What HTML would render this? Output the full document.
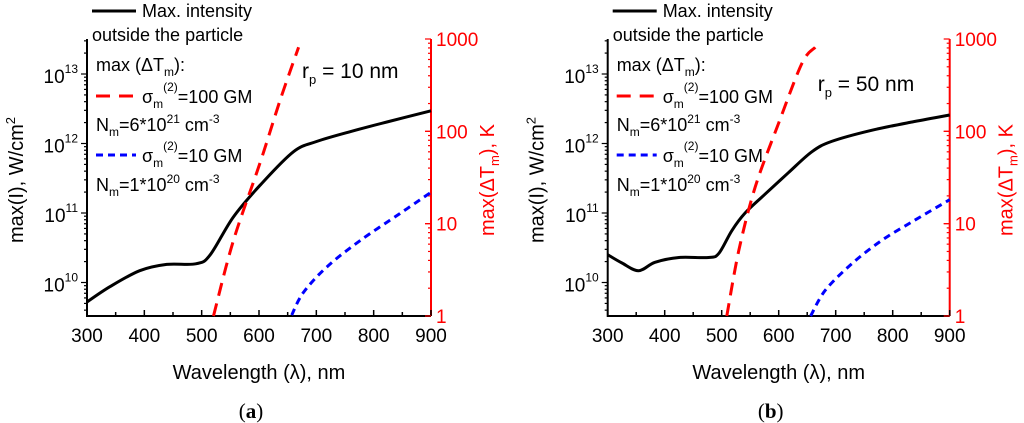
<!DOCTYPE html>
<html><head><meta charset="utf-8">
<style>
html,body{margin:0;padding:0;background:#fff;}
svg{display:block;font-family:"Liberation Sans",Arial,sans-serif;}
</style></head>
<body>
<svg id="fig" width="1024" height="423" viewBox="0 0 1024 423" xmlns="http://www.w3.org/2000/svg"></svg>
<script>
// ---- data ----
const xTicks = [300, 400, 500, 600, 700, 800, 900];
const leftTickExps = [10, 11, 12, 13];
const rightTicks = [1, 10, 100, 1000];
// panel (a) r_p = 10 nm
const aBlackWl = [300, 340, 392, 439, 491, 515, 555, 602, 660, 701, 759, 823, 900];
const aBlackLog = [9.72, 9.94, 10.17, 10.26, 10.27, 10.40, 10.94, 11.40, 11.88, 12.03, 12.17, 12.31, 12.47];
const aRedWl = [520.6, 555.5, 602, 637, 669];
const aRedLog = [0, 0.82, 1.66, 2.34, 2.91];
const aBlueWl = [657, 677, 718, 777, 846, 900];
const aBlueLog = [0.01, 0.25, 0.53, 0.82, 1.11, 1.34];
// panel (b) r_p = 50 nm
const bBlackWl = [300, 325, 354, 383, 425, 477, 495, 518, 541, 576, 617, 658, 693, 763, 834, 900];
const bBlackLog = [10.40, 10.28, 10.17, 10.29, 10.36, 10.36, 10.42, 10.75, 11.0, 11.27, 11.58, 11.88, 12.03, 12.19, 12.31, 12.41];
const bRedWl = [509, 530, 559, 600, 641, 664];
const bRedLog = [0, 0.71, 1.40, 2.09, 2.74, 2.91];
const bBlueWl = [656, 682, 729, 781, 834, 900];
const bBlueLog = [0, 0.28, 0.57, 0.82, 1.02, 1.26];

const NS = "http://www.w3.org/2000/svg";
const svg = document.getElementById('fig');
function el(tag, attrs, parent, text){
  const e = document.createElementNS(NS, tag);
  for (const k in attrs) e.setAttribute(k, attrs[k]);
  if (text !== undefined) e.textContent = text;
  (parent||svg).appendChild(e);
  return e;
}
function smoothPath(pts){
  let d = `M${pts[0][0].toFixed(1)},${pts[0][1].toFixed(1)}`;
  for (let i = 0; i < pts.length - 1; i++) {
    const p0 = pts[Math.max(0, i - 1)], p1 = pts[i], p2 = pts[i + 1], p3 = pts[Math.min(pts.length - 1, i + 2)];
    const c1x = p1[0] + (p2[0] - p0[0]) / 6, c1y = p1[1] + (p2[1] - p0[1]) / 6;
    const c2x = p2[0] - (p3[0] - p1[0]) / 6, c2y = p2[1] - (p3[1] - p1[1]) / 6;
    d += ` C${c1x.toFixed(1)},${c1y.toFixed(1)} ${c2x.toFixed(1)},${c2y.toFixed(1)} ${p2[0].toFixed(1)},${p2[1].toFixed(1)}`;
  }
  return d;
}

function panel(id, x0, x1, rp, label, black, red, blue){
  const top = 39, bot = 316;
  const g = el('g', {});
  
  
  const X = w => x0 + (w - 300) / 600 * (x1 - x0);
  const YL = l => 74 + (13 - l) * 69.5;
  const YR = l => bot - l * (bot - top) / 3;

  const ax = el('path', {d:`M${x0},${top}V${bot}H${x1}`, stroke:'#000', 'stroke-width':2, fill:'none'}, g);
  
  
  const rax = el('line', {x1:x1, y1:top, x2:x1, y2:bot, stroke:'#f00', 'stroke-width':2}, g);
  
  

  for (let w = 300; w <= 900; w += 50) {
    const major = w % 100 === 0;
    el('line', {x1:X(w), x2:X(w), y1:bot, y2:bot - (major ? 6 : 4), stroke:'#000', 'stroke-width':1.5}, g);
  }
  xTicks.forEach(w => {
    const t = el('text', {x:X(w), y:342, 'font-size':19, 'text-anchor':'middle'}, g, String(w));
    
    
  });
  for (let e = 9; e <= 13; e++) {
    for (let m = 1; m <= 9; m++) {
      const y = YL(e + Math.log10(m));
      if (y < top || y > bot) continue;
      el('line', {x1:x0, x2:x0 - (m === 1 ? 6 : 3), y1:y, y2:y, stroke:'#000', 'stroke-width':1.2}, g);
    }
  }
  leftTickExps.forEach(e => {
    const t = el('text', {x:x0 - 9, y:YL(e) + 9, 'font-size':19, 'text-anchor':'end'}, g, '10');
    
    
    el('tspan', {dy:-10, 'font-size':12}, t, String(e));
  });
  for (let e = 0; e < 3; e++) {
    for (let m = 1; m <= 10; m++) {
      const y = YR(e + Math.log10(m));
      el('line', {x1:x1, x2:x1 - (m === 1 || m === 10 ? 6 : 3), y1:y, y2:y, stroke:'#f00', 'stroke-width':1.2}, g);
    }
  }
  rightTicks.forEach(v => {
    const t = el('text', {x:x1 + 5, y:YR(Math.log10(v)) + 7, 'font-size':19, fill:'#f00'}, g, String(v));
    
    
  });

  const xt = el('text', {x:(x0 + x1) / 2, y:379, 'font-size':20, 'text-anchor':'middle'}, g, 'Wavelength (λ), nm');
  
  
  const yt = el('text', {transform:`translate(${x0 - 64},180) rotate(-90)`, 'font-size':20, 'text-anchor':'middle'}, g);
  
  
  yt.appendChild(document.createTextNode('max(I), W/cm'));
  el('tspan', {dy:-8, 'font-size':13}, yt, '2');
  const rt = el('text', {transform:`translate(${x1 + 63},180) rotate(-90)`, 'font-size':20, 'text-anchor':'middle', fill:'#f00'}, g);
  
  
  rt.appendChild(document.createTextNode('max(ΔT'));
  el('tspan', {dy:5, 'font-size':13}, rt, 'm');
  el('tspan', {dy:-5}, rt, '), K');

  function line(wl, lg, Y, color, dash, name){
    const pts = wl.map((w, i) => [X(w), Y(lg[i])]);
    const p = el('path', {d:smoothPath(pts), fill:'none', stroke:color, 'stroke-width':3, 'stroke-dasharray':dash}, g);
    
    
  }
  line(black[0], black[1], YL, '#000', 'none', 'max-intensity-line');
  line(red[0], red[1], YR, '#f00', '13,8', 'delta-t-100gm-line');
  line(blue[0], blue[1], YR, '#00f', '7,5', 'delta-t-10gm-line');

  const lx = x0 + 3;
  const leg = el('g', {'font-size':18}, g);
  
  
  el('line', {x1:lx + 2, x2:lx + 46, y1:11, y2:11, stroke:'#000', 'stroke-width':3}, leg);
  el('text', {x:lx + 52, y:17}, leg, 'Max. intensity');
  el('text', {x:lx + 2, y:41}, leg, 'outside the particle');
  const t1 = el('text', {x:lx + 6, y:71}, leg, 'max (ΔT');
  el('tspan', {dy:5, 'font-size':12}, t1, 'm'); el('tspan', {dy:-5}, t1, '):');
  el('line', {x1:lx + 6, x2:lx + 46, y1:96, y2:96, stroke:'#f00', 'stroke-width':3, 'stroke-dasharray':'14,9'}, leg);
  const t2 = el('text', {x:lx + 52, y:103}, leg, 'σ');
  el('tspan', {dy:5, 'font-size':12}, t2, 'm'); el('tspan', {dy:-17, 'font-size':12}, t2, '(2)'); el('tspan', {dy:12}, t2, '=100 GM');
  const t3 = el('text', {x:lx + 6, y:131}, leg, 'N');
  el('tspan', {dy:5, 'font-size':12}, t3, 'm'); el('tspan', {dy:-5}, t3, '=6*10'); el('tspan', {dy:-8, 'font-size':12}, t3, '21'); el('tspan', {dy:8}, t3, ' cm'); el('tspan', {dy:-8, 'font-size':12}, t3, '-3');
  el('line', {x1:lx + 6, x2:lx + 46, y1:155, y2:155, stroke:'#00f', 'stroke-width':3, 'stroke-dasharray':'7,5'}, leg);
  const t4 = el('text', {x:lx + 52, y:162}, leg, 'σ');
  el('tspan', {dy:5, 'font-size':12}, t4, 'm'); el('tspan', {dy:-17, 'font-size':12}, t4, '(2)'); el('tspan', {dy:12}, t4, '=10 GM');
  const t5 = el('text', {x:lx + 6, y:191}, leg, 'N');
  el('tspan', {dy:5, 'font-size':12}, t5, 'm'); el('tspan', {dy:-5}, t5, '=1*10'); el('tspan', {dy:-8, 'font-size':12}, t5, '20'); el('tspan', {dy:8}, t5, ' cm'); el('tspan', {dy:-8, 'font-size':12}, t5, '-3');

  const r = el('text', {x:x0 + (id === 'a' ? 215 : 210), y:(id === 'a' ? 78 : 91), 'font-size':21}, g, 'r');
  
  
  el('tspan', {dy:6, 'font-size':13}, r, 'p'); el('tspan', {dy:-6}, r, ' = ' + rp);

  const lb = el('text', {x:(x0 + x1) / 2 - 8, y:418, 'font-size':21, 'font-family':'Liberation Serif, serif', 'text-anchor':'middle'}, g, '(');
  
  
  el('tspan', {'font-weight':'bold'}, lb, label); el('tspan', {}, lb, ')');
}

panel('a', 87, 431, '10 nm', 'a', [aBlackWl, aBlackLog], [aRedWl, aRedLog], [aBlueWl, aBlueLog]);
panel('b', 607.7, 949.7, '50 nm', 'b', [bBlackWl, bBlackLog], [bRedWl, bRedLog], [bBlueWl, bBlueLog]);
</script>
</body></html>
